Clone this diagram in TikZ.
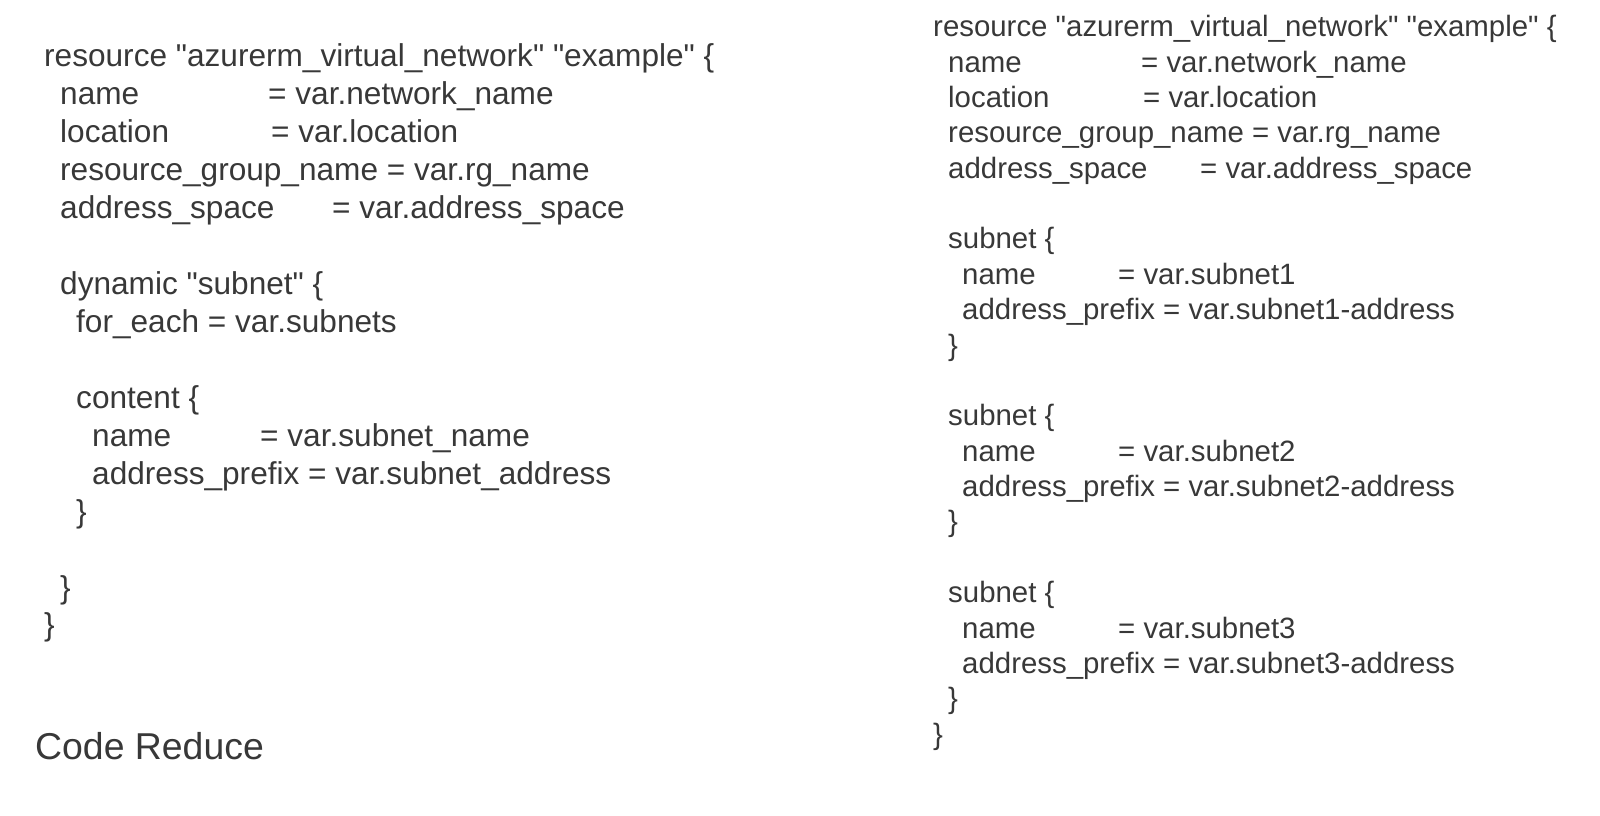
\documentclass[tikz,border=0pt]{standalone}
\usepackage{fontspec}
\setmainfont{Liberation Sans}[Ligatures=TeXOff]
\definecolor{ink}{HTML}{383838}
\begin{document}
\begin{tikzpicture}[x=1pt,y=-1pt,
  codeL/.style={anchor=base west,inner sep=0pt,text=ink,font=\fontsize{31.6}{38}\selectfont},
  codeR/.style={anchor=base west,inner sep=0pt,text=ink,font=\fontsize{29.4}{35}\selectfont},
  titletext/.style={anchor=base west,inner sep=0pt,text=ink,font=\fontsize{37.4}{44}\selectfont}]
\useasboundingbox (0,0) rectangle (1600,816);
% left block
\node[codeL] (l0) at (44,66.7) {resource "azurerm\_virtual\_network" "example" \{};
\node[codeL] (l1a) at (60,104.65) {name};
\node[codeL] (l1b) at (268,104.65) {= var.network\_name};
\node[codeL] (l2a) at (60,142.6) {location};
\node[codeL] (l2b) at (271,142.6) {= var.location};
\node[codeL] (l3) at (60,180.55) {resource\_group\_name = var.rg\_name};
\node[codeL] (l4a) at (60,218.5) {address\_space};
\node[codeL] (l4b) at (332,218.5) {= var.address\_space};
\node[codeL] (l6) at (60,294.4) {dynamic "subnet" \{};
\node[codeL] (l7) at (76,332.35) {for\_each = var.subnets};
\node[codeL] (l9) at (76,408.25) {content \{};
\node[codeL] (l10a) at (92,446.2) {name};
\node[codeL] (l10b) at (260,446.2) {= var.subnet\_name};
\node[codeL] (l11) at (92,484.15) {address\_prefix = var.subnet\_address};
\node[codeL] (l12) at (76,522.1) {\}};
\node[codeL] (l14) at (60,598) {\}};
\node[codeL] (l15) at (44,635.95) {\}};
% title
\node[titletext] (title) at (35,759) {Code Reduce};
% right block
\node[codeR] (r0) at (933,36.7) {resource "azurerm\_virtual\_network" "example" \{};
\node[codeR] (r1a) at (948,72.1) {name};
\node[codeR] (r1b) at (1141,72.1) {= var.network\_name};
\node[codeR] (r2a) at (948,107.4) {location};
\node[codeR] (r2b) at (1143,107.4) {= var.location};
\node[codeR] (r3) at (948,142.8) {resource\_group\_name = var.rg\_name};
\node[codeR] (r4a) at (948,178.2) {address\_space};
\node[codeR] (r4b) at (1200,178.2) {= var.address\_space};
% subnet 1
\node[codeR] (s1) at (948,248.9) {subnet \{};
\node[codeR] (s1na) at (962,284.3) {name};
\node[codeR] (s1nb) at (1118,284.3) {= var.subnet1};
\node[codeR] (s1p) at (962,319.7) {address\_prefix = var.subnet1-address};
\node[codeR] (s1e) at (948,355.0) {\}};
% subnet 2
\node[codeR] (s2) at (948,425.8) {subnet \{};
\node[codeR] (s2na) at (962,461.1) {name};
\node[codeR] (s2nb) at (1118,461.1) {= var.subnet2};
\node[codeR] (s2p) at (962,496.5) {address\_prefix = var.subnet2-address};
\node[codeR] (s2e) at (948,531.9) {\}};
% subnet 3
\node[codeR] (s3) at (948,602.6) {subnet \{};
\node[codeR] (s3na) at (962,638.0) {name};
\node[codeR] (s3nb) at (1118,638.0) {= var.subnet3};
\node[codeR] (s3p) at (962,673.3) {address\_prefix = var.subnet3-address};
\node[codeR] (s3e) at (948,708.7) {\}};
\node[codeR] (r20) at (933,744.1) {\}};
\end{tikzpicture}
\end{document}
